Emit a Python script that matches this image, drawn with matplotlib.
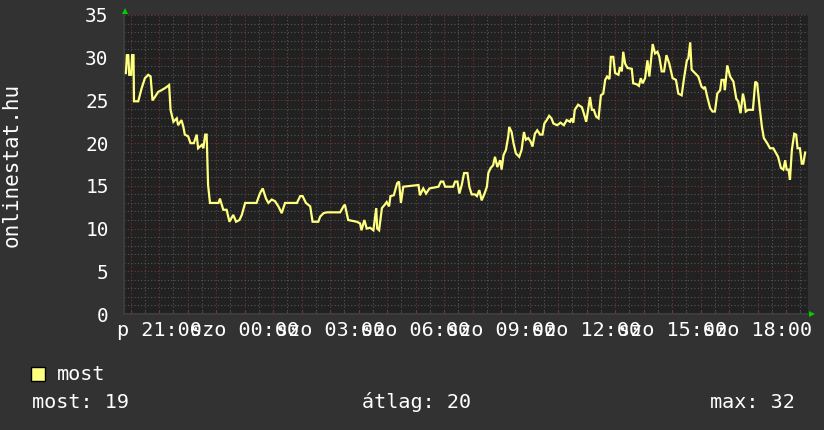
import matplotlib
matplotlib.use("Agg")
import matplotlib.pyplot as plt
from matplotlib.ticker import FixedLocator, FuncFormatter, MultipleLocator
from matplotlib.patches import Rectangle

# ---- data -------------------------------------------------------------
start_clock = (19, 46)          # first sample time (Friday)
span_minutes = 1440
minutes_since_start = [
    4, 6, 9, 11, 15, 17, 20, 21, 30, 37, 44, 51, 56, 60, 65, 72, 79, 88, 95, 98,
    104, 111, 114, 121, 125, 128, 135, 140, 147, 153, 156, 164, 167, 171, 174, 177,
    181, 199, 202, 209, 216, 222, 230, 236, 243, 248, 255, 279, 286, 292, 299, 304,
    311, 318, 325, 332, 339, 364, 371, 376, 383, 392, 397, 409, 413,
    420, 427, 455, 462, 465, 472, 490, 497, 500, 506, 511, 518, 525, 531, 533, 537,
    543, 549, 553, 558, 561, 568, 575, 579, 583, 588, 620, 623, 630, 636, 643, 662,
    667, 672, 676, 693, 697, 702, 706, 711, 716, 723, 727, 732, 739, 743, 748, 753,
    759, 764, 767, 772, 777, 781, 786, 792, 795, 799, 804, 809, 811, 816, 820, 825,
    832, 837, 842, 846, 851, 856, 860, 865, 870, 876, 881, 885, 890, 895, 900, 904,
    912, 919, 926, 932, 939,
    942, 946, 949, 956, 964, 968, 973, 977, 981, 985, 989, 994, 999, 1004, 1009,
    1013, 1017, 1022, 1025, 1030, 1034, 1041, 1044, 1048, 1051, 1055, 1060, 1069,
    1072, 1079, 1084, 1088, 1092, 1097, 1102, 1106, 1113, 1118, 1123, 1127, 1132,
    1137, 1142, 1148, 1155, 1162, 1167, 1174, 1179, 1185, 1188, 1192, 1195, 1202,
    1209, 1216, 1220, 1223, 1228, 1234, 1239, 1244, 1249, 1255, 1258, 1263, 1265,
    1270, 1276, 1283, 1289, 1293, 1298, 1303, 1306, 1309, 1314, 1324, 1329, 1333,
    1338, 1343, 1347, 1354, 1360, 1367, 1373, 1377, 1383, 1388, 1392, 1395, 1399,
    1402, 1406, 1411, 1415, 1418, 1423, 1427, 1430, 1434,
]
most_values = [
    28.2, 30.3, 30.3, 28.0, 28.0, 30.3, 30.3, 24.9, 24.9, 26.4, 27.6, 28.0, 27.8, 25.0,
    25.4, 26.0, 26.2, 26.5, 26.8, 23.9, 22.5, 22.9, 22.1, 22.7, 21.9, 21.0, 20.8, 20.0,
    20.0, 21.0, 19.4, 19.8, 19.4, 21.0, 21.0, 15.1, 13.0, 13.0, 13.5, 12.2, 12.2, 10.8,
    11.6, 10.8, 11.0, 11.6, 13.0, 13.0, 14.1, 14.7, 13.5, 13.0, 13.4, 13.2, 12.6, 11.8,
    13.0, 13.0, 13.8, 13.8, 13.0, 12.6, 10.8, 10.8, 11.4,
    11.8, 11.9, 11.9, 12.6, 12.8, 11.0, 10.8, 10.6, 9.8, 11.0, 10.0, 10.1, 9.8, 12.4,
    10.0, 9.8, 12.4, 12.8, 13.1, 12.6, 13.8, 13.9, 15.3, 15.5, 13.0, 14.9, 15.1, 13.9,
    14.7, 14.1, 14.7, 14.9, 15.5, 15.5, 14.9, 14.9, 15.5, 15.5, 14.1, 15.1, 16.5, 16.5,
    14.9, 14.0, 14.0, 13.8, 14.5, 13.3, 14.1, 14.9, 16.5, 17.1, 17.4, 18.4, 17.2, 18.0,
    16.9, 18.6, 19.2, 20.8, 21.9, 21.3, 20.0, 18.8, 18.4, 19.2, 21.3, 20.4, 20.6, 20.2,
    19.6, 21.1, 21.5, 21.0, 21.0, 22.3, 22.7, 23.2, 22.9, 22.3, 22.1, 22.4, 22.1, 22.7,
    22.5,
    22.9, 22.4, 23.9, 24.5, 24.2, 23.5, 22.5, 23.9, 25.4, 23.9, 23.9, 23.1, 22.9, 25.6,
    25.8, 27.4, 27.8, 27.5, 30.1, 30.1, 28.2, 28.0, 28.9, 28.4, 30.7, 29.3, 28.8, 28.7,
    27.0, 26.9, 26.7, 27.6, 27.0, 27.6, 29.7, 27.8, 31.6, 30.5, 30.7, 30.1, 28.4, 28.4,
    30.3, 29.3, 27.6, 27.4, 25.8, 25.6, 27.6, 29.7, 29.9, 31.8, 28.6, 28.2, 27.8, 26.6,
    26.4, 26.6, 25.4, 24.1, 23.7, 23.7, 25.8, 26.2, 27.4, 27.4, 26.2, 29.1, 27.8, 27.2,
    25.2, 24.9, 23.5, 25.8, 25.0, 23.7, 23.9, 23.9, 27.2, 27.0, 24.3, 21.9, 20.6, 20.0,
    19.4, 19.4, 18.8, 18.4, 17.1, 16.9, 18.0, 16.9, 16.9, 15.7, 19.2, 21.1, 21.0, 19.4,
    19.4, 17.6, 17.6, 18.9,
]
series_name = "most"
y_axis_label = "onlinestat.hu"
y_ticks = [0, 5, 10, 15, 20, 25, 30, 35]
day_before_midnight = "p"
day_after_midnight = "szo"
legend_stats = ["most: 19", "átlag: 20", "max: 32"]

# ---- style ------------------------------------------------------------
W, H = 824, 430
FIG_BG = "#323232"
AX_BG = "#212121"
LINE_C = "#ffff80"
MINOR_C = "#555555"
MAJOR_C = "#7a3434"
TXT_C = "#ffffff"
FONT = ["DejaVu Sans Mono", "DejaVu Sans"]
plt.rcParams["font.family"] = FONT

fig = plt.figure(figsize=(W / 100, H / 100), dpi=100, facecolor=FIG_BG)
ax_l, ax_r, ax_t, ax_b = 124, 808, 15, 314
ax = fig.add_axes([ax_l / W, 1 - ax_b / H, (ax_r - ax_l) / W, (ax_b - ax_t) / H])
ax.set_facecolor(AX_BG)

ax.plot(minutes_since_start, most_values, color=LINE_C, lw=1.6, zorder=5,
        solid_joinstyle="miter")

ax.set_xlim(0, span_minutes)
ax.set_ylim(0, 35)

# time ticks: hourly major, half-hourly minor
start_min = start_clock[0] * 60 + start_clock[1]
first_hour = (60 - start_clock[1]) % 60
hour_pos = list(range(first_hour, span_minutes + 1, 60))
half_pos = [p + 30 for p in hour_pos if p + 30 <= span_minutes]
if first_hour - 30 >= 0:
    half_pos.insert(0, first_hour - 30)


def tlabel(v, _pos=None):
    m = int(round(v)) + start_min
    hh = (m // 60) % 24
    if hh % 3 != 0:
        return ""
    day = day_before_midnight if m < 24 * 60 else day_after_midnight
    return f"{day} {hh:02d}:00"


ax.xaxis.set_major_locator(FixedLocator(hour_pos))
ax.xaxis.set_minor_locator(FixedLocator(half_pos))
ax.xaxis.set_major_formatter(FuncFormatter(tlabel))
ax.yaxis.set_major_locator(FixedLocator(y_ticks))
ax.yaxis.set_minor_locator(MultipleLocator(1))

ax.grid(which="minor", color=MINOR_C, linestyle=(0, (1, 2)), lw=0.8, zorder=1)
ax.grid(which="major", color=MAJOR_C, linestyle=(0, (1, 2)), lw=0.8, zorder=2)
ax.set_axisbelow(True)

ax.tick_params(axis="x", which="major", direction="in", length=3, color=MAJOR_C,
               labelsize=14.5, labelcolor=TXT_C, pad=5)
ax.tick_params(axis="x", which="minor", direction="in", length=2, color=MINOR_C)
ax.tick_params(axis="y", which="both", length=0, labelsize=14, labelcolor=TXT_C, pad=11)

for s in ["top", "right"]:
    ax.spines[s].set_visible(False)
for s in ["left", "bottom"]:
    ax.spines[s].set_color("#3c3c3c")
    ax.spines[s].set_linewidth(1.5)

# axis arrows
ax.plot([0], [1], marker="^", color="#00cc00", ms=5, transform=ax.transAxes,
        clip_on=False, zorder=6, markeredgewidth=0)
ax.plot([1.006], [0], marker=">", color="#00cc00", ms=5, transform=ax.transAxes,
        clip_on=False, zorder=6, markeredgewidth=0)
ax.lines[-2].set_transform(ax.transAxes + matplotlib.transforms.ScaledTranslation(
    1.5 / 100, 4 / 100, fig.dpi_scale_trans))

fig.text(12 / W, 1 - 164.5 / H, y_axis_label, rotation=90, ha="center", va="center",
         color=TXT_C, fontsize=15)

# legend
fig.patches.append(Rectangle((31 / W, 1 - 381 / H), 14 / W, 14 / H,
                             transform=fig.transFigure, facecolor=LINE_C,
                             edgecolor="#000000", lw=1))
fig.text(57 / W, 1 - 374 / H, series_name, ha="left", va="center", color=TXT_C,
         fontsize=14.5)
fig.text(32 / W, 1 - 402 / H, legend_stats[0], ha="left", va="center", color=TXT_C,
         fontsize=14.5)
fig.text(417 / W, 1 - 402 / H, legend_stats[1], ha="center", va="center", color=TXT_C,
         fontsize=14.5)
fig.text(795 / W, 1 - 402 / H, legend_stats[2], ha="right", va="center", color=TXT_C,
         fontsize=14.5)

fig.savefig("out.png", dpi=100, facecolor=FIG_BG)
